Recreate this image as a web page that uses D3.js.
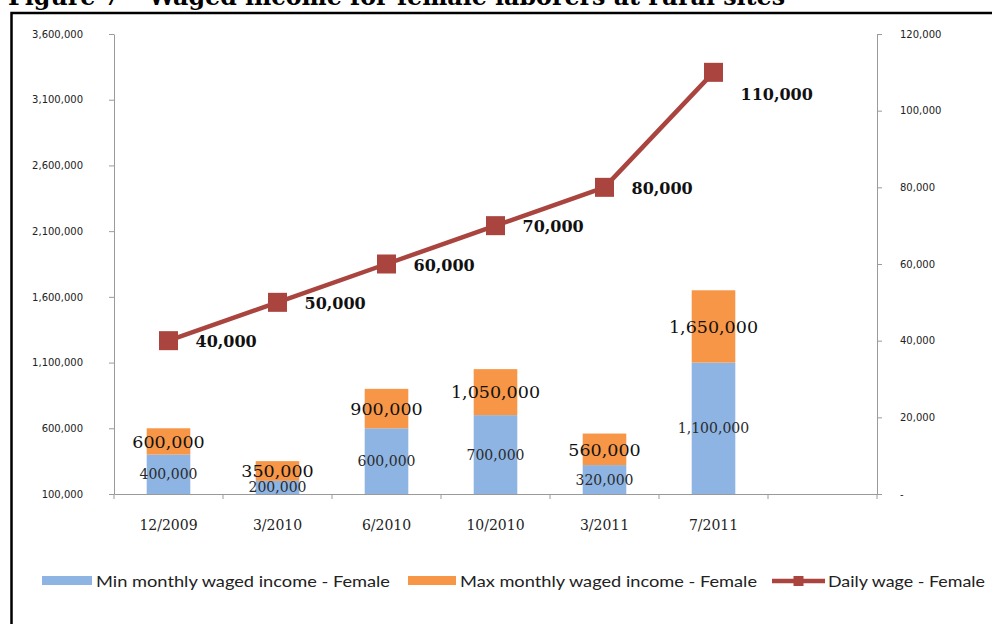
<!DOCTYPE html>
<html>
<head>
<meta charset="utf-8">
<script src="https://cdn.jsdelivr.net/npm/d3@7/dist/d3.min.js"></script>
<style>
  html, body { margin: 0; padding: 0; background: #fff; }
  svg { display: block; }
</style>
</head>
<body>
<svg id="chart" width="992" height="624"></svg>
<script>
// Survey rounds
const categories = ["12/2009", "3/2010", "6/2010", "10/2010", "3/2011", "7/2011"];
// Monthly waged income (VND) for female laborers
const minMonthly = [400000, 200000, 600000, 700000, 320000, 1100000];
const maxMonthly = [600000, 350000, 900000, 1050000, 560000, 1650000];
// Daily wage (VND) for female laborers
const dailyWage = [40000, 50000, 60000, 70000, 80000, 110000];
// Axis ticks
const leftTicks = [100000, 600000, 1100000, 1600000, 2100000, 2600000, 3100000, 3600000];
const rightTicks = [0, 20000, 40000, 60000, 80000, 100000, 120000];

const titleText = "Figure 7 \u2013 Waged income for female laborers at rural sites";
const seriesNames = ["Min monthly waged income - Female", "Max monthly waged income - Female", "Daily wage - Female"];

const C = { blue: "#8DB4E2", orange: "#F79646", red: "#A9443F", axis: "#9a9a9a", text: "#222" };
const plot = { left: 114, right: 877, top: 34, bottom: 494 };

const svg = d3.select("#chart");
const fmt = d3.format(",");

// Page title, clipped by the top of the page
svg.append("text")
  .attr("x", 8).attr("y", 5)
  .attr("font-family", "'DejaVu Serif', serif")
  .attr("font-weight", "bold")
  .attr("font-size", 25)
  .attr("textLength", 777).attr("lengthAdjust", "spacingAndGlyphs")
  .attr("fill", "#000")
  .text(titleText);

// Frame around the figure
svg.append("path")
  .attr("d", "M11.5,624 V13 H992")
  .attr("fill", "none").attr("stroke", "#000").attr("stroke-width", 2.5);

// Scales: seven slots, last one left empty
const slots = categories.concat([" "]);
const x = d3.scaleBand().domain(slots).range([plot.left, plot.right]);
const yL = d3.scaleLinear().domain([100000, 3600000]).range([plot.bottom, plot.top]);
const yR = d3.scaleLinear().domain([0, 120000]).range([plot.bottom, plot.top]);

function styleAxis(g, size, anchorDx) {
  g.select(".domain").attr("stroke", C.axis);
  g.selectAll(".tick line").attr("stroke", C.axis);
  g.selectAll(".tick text")
    .attr("font-family", "'DejaVu Sans', sans-serif")
    .attr("font-size", size)
    .attr("fill", C.text);
}

// Left axis
const gL = svg.append("g").attr("transform", `translate(${plot.left},0)`)
  .call(d3.axisLeft(yL).tickValues(leftTicks).tickFormat(fmt).tickSize(5).tickSizeOuter(0).tickPadding(26));
styleAxis(gL, 10);

// Right axis
const gR = svg.append("g").attr("transform", `translate(${plot.right},0)`)
  .call(d3.axisRight(yR).tickValues(rightTicks).tickFormat(d => d === 0 ? "-" : fmt(d)).tickSize(5).tickSizeOuter(0).tickPadding(18));
styleAxis(gR, 10);

// Bottom axis: labels centred in slots, ticks on slot boundaries
const gB = svg.append("g").attr("transform", `translate(0,${plot.bottom})`)
  .call(d3.axisBottom(x).tickSize(0).tickPadding(26));
gB.select(".domain").attr("stroke", C.axis);
gB.selectAll(".tick text")
  .attr("font-family", "'DejaVu Serif', serif")
  .attr("font-size", 14)
  .attr("fill", C.text);
const bounds = slots.map(s => x(s)).concat([plot.right]);
svg.append("g").selectAll("line").data(bounds).join("line")
  .attr("x1", d => d).attr("x2", d => d)
  .attr("y1", plot.bottom).attr("y2", plot.bottom + 5)
  .attr("stroke", C.axis);

// Stacked bars: min below, remainder up to max above
const barW = x.bandwidth() * 0.4;
const rows = categories.map((c, i) => ({ c, min: minMonthly[i], max: maxMonthly[i] }));
const gBars = svg.append("g");
gBars.selectAll("rect.min").data(rows).join("rect")
  .attr("class", "min")
  .attr("x", d => x(d.c) + (x.bandwidth() - barW) / 2)
  .attr("width", barW)
  .attr("y", d => yL(d.min))
  .attr("height", d => yL(100000) - yL(d.min))
  .attr("fill", C.blue);
gBars.selectAll("rect.max").data(rows).join("rect")
  .attr("class", "max")
  .attr("x", d => x(d.c) + (x.bandwidth() - barW) / 2)
  .attr("width", barW)
  .attr("y", d => yL(d.max))
  .attr("height", d => yL(d.min) - yL(d.max))
  .attr("fill", C.orange);

// Bar value labels, centred in each segment
gBars.selectAll("text.min").data(rows).join("text")
  .attr("class", "min")
  .attr("x", d => x(d.c) + x.bandwidth() / 2)
  .attr("y", d => (yL(d.min) + yL(100000)) / 2)
  .attr("dy", "0.36em")
  .attr("text-anchor", "middle")
  .attr("font-family", "'DejaVu Serif', serif")
  .attr("font-size", 14)
  .attr("fill", "#2a2a2a")
  .text(d => fmt(d.min));
gBars.selectAll("text.max").data(rows).join("text")
  .attr("class", "max")
  .attr("x", d => x(d.c) + x.bandwidth() / 2)
  .attr("y", d => (yL(d.max) + yL(d.min)) / 2)
  .attr("dy", "0.36em")
  .attr("text-anchor", "middle")
  .attr("font-family", "'DejaVu Serif', serif")
  .attr("font-size", 17.5)
  .attr("fill", "#111")
  .text(d => fmt(d.max));

// Daily wage line on the right axis
const pts = categories.map((c, i) => ({ c, v: dailyWage[i] }));
const cx = d => x(d.c) + x.bandwidth() / 2;
svg.append("path")
  .datum(pts)
  .attr("d", d3.line().x(cx).y(d => yR(d.v)))
  .attr("fill", "none").attr("stroke", C.red).attr("stroke-width", 4.5)
  .attr("stroke-linejoin", "round");
const mk = 19;
svg.append("g").selectAll("rect").data(pts).join("rect")
  .attr("x", d => cx(d) - mk / 2).attr("y", d => yR(d.v) - mk / 2)
  .attr("width", mk).attr("height", mk)
  .attr("fill", C.red);
// The last label sits below its point to clear the line
const lastLabelDrop = 21;
svg.append("g").selectAll("text").data(pts).join("text")
  .attr("x", d => cx(d) + 27)
  .attr("y", (d, i) => yR(d.v) + 1 + (i === pts.length - 1 ? lastLabelDrop : 0))
  .attr("dy", "0.36em")
  .attr("font-family", "'DejaVu Serif', serif")
  .attr("font-weight", "bold")
  .attr("font-size", 16)
  .attr("fill", "#111")
  .text(d => fmt(d.v));

// Legend
const legY = 581;
const leg = svg.append("g").attr("font-family", "Lato, 'Open Sans', sans-serif").attr("font-size", 16).attr("fill", "#222");
const legItems = [
  { name: seriesNames[0], sx: 42, sw: 50, tx: 96, tw: 294, kind: "box", color: C.blue },
  { name: seriesNames[1], sx: 408, sw: 48, tx: 460, tw: 297, kind: "box", color: C.orange },
  { name: seriesNames[2], sx: 772, sw: 53, tx: 828, tw: 157, kind: "line", color: C.red }
];
legItems.forEach(it => {
  if (it.kind === "box") {
    leg.append("rect").attr("x", it.sx).attr("y", legY - 5).attr("width", it.sw).attr("height", 9).attr("fill", it.color);
  } else {
    leg.append("line").attr("x1", it.sx).attr("x2", it.sx + it.sw).attr("y1", legY).attr("y2", legY)
      .attr("stroke", it.color).attr("stroke-width", 4.5);
    leg.append("rect").attr("x", it.sx + it.sw / 2 - 5).attr("y", legY - 5).attr("width", 10).attr("height", 10).attr("fill", it.color);
  }
  leg.append("text").attr("x", it.tx).attr("y", legY).attr("dy", "0.35em")
    .attr("textLength", it.tw).attr("lengthAdjust", "spacingAndGlyphs")
    .text(it.name);
});
</script>
</body>
</html>
